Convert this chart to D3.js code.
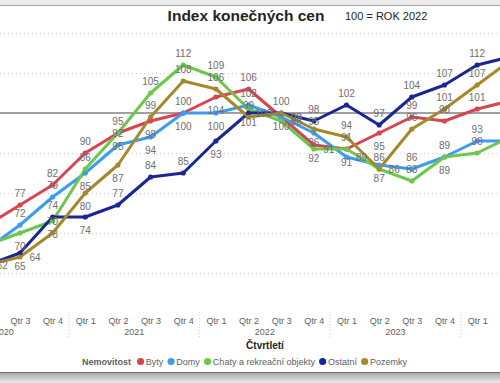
<!DOCTYPE html>
<html><head><meta charset="utf-8">
<script src="https://cdn.jsdelivr.net/npm/d3@7"></script>
<style>
html,body{margin:0;padding:0;background:#fff;}
svg{display:block;font-family:"Liberation Sans",Arial,sans-serif;}
</style></head><body>
<svg id="c" width="500" height="383"></svg>
<script>
// ---- data ----
const quarters = ["Qtr 2","Qtr 3","Qtr 4","Qtr 1","Qtr 2","Qtr 3","Qtr 4","Qtr 1","Qtr 2","Qtr 3","Qtr 4","Qtr 1","Qtr 2","Qtr 3","Qtr 4","Qtr 1","Qtr 2"];
const years    = [2020,2020,2020,2021,2021,2021,2021,2022,2022,2022,2022,2023,2023,2023,2023,2024,2024];
const seriesNames = ["Byty","Domy","Chaty a rekreační objekty","Ostatní","Pozemky"];
const byty    = [72, 77, 82, 90, 95, 98, 100, 104, 106, 99, 92, 91, 95, 99, 98, 101, 103];
const domy    = [66, 72, 79, 85, 92, 94, 100, 100, 102, 99, 95, 89, 87, 86, 89, 93, 93];
const chaty   = [67, 70, 73, 86, 95, 105, 112, 109, 101, 98, 91, 91, 86, 83, 89, 90, 94];
const ostatni = [62, 65, 74, 74, 77, 84, 85, 93, 100, 100, 98, 102, 97, 104, 107, 112, 114];
const pozemky = [62, 64, 70, 80, 87, 99, 108, 106, 99, 100, 96, 94, 86, 96, 101, 107, 113];
const gridValues = [60, 70, 80, 90, 110, 120];
const referenceValue = 100;
const titleText = "Index konečných cen";
const subtitleText = "100 = ROK 2022";
const axisTitle = "Čtvrtletí";
const legendTitle = "Nemovitost";

// ---- styles ----
const colors = ["#D64550", "#3D9BF0", "#6CC84A", "#1A2696", "#A3892A"];
const series = [byty, domy, chaty, ostatni, pozemky].map((v, k) => ({name: seriesNames[k], values: v, color: colors[k]}));

const W = 500, H = 383;
const svg = d3.select("#c");

// frame (screenshot card)
svg.append("rect").attr("x",0).attr("y",0).attr("width",W).attr("height",5.5).attr("fill","#ececec");
svg.append("line").attr("x1",0).attr("x2",W).attr("y1",5.5).attr("y2",5.5).attr("stroke","#a4a4a4").attr("stroke-width",1);
const grad = svg.append("defs").append("linearGradient").attr("id","sh").attr("x1",0).attr("x2",0).attr("y1",0).attr("y2",1);
grad.append("stop").attr("offset","0%").attr("stop-color","#a9a9a9");
grad.append("stop").attr("offset","100%").attr("stop-color","#ececec");
svg.append("rect").attr("x",0).attr("y",373).attr("width",W).attr("height",10).attr("fill","url(#sh)");
svg.append("line").attr("x1",0).attr("x2",W).attr("y1",372.5).attr("y2",372.5).attr("stroke","#707070").attr("stroke-width",1);

// scales
const n = quarters.length;
const x = d3.scaleLinear().domain([0, n - 1]).range([-12.7, 509.8]);
const y = d3.scaleLinear().domain([60, 120]).range([273, 33]);

// gridlines
const grid = svg.append("g").call(d3.axisLeft(y).tickValues(gridValues).tickSize(-W).tickFormat(""));
grid.select(".domain").remove();
grid.selectAll(".tick line").attr("stroke","#cfcfcf").attr("stroke-dasharray","1,3");

// reference line
svg.append("line").attr("x1",0).attr("x2",W).attr("y1",y(referenceValue)).attr("y2",y(referenceValue))
  .attr("stroke","#a0a0a0").attr("stroke-width",2);

// x axis quarters (only ticks that fall inside the visible frame)
const visibleTicks = d3.range(n).filter(i => x(i) > 5 && x(i) < W - 5);
const xa = svg.append("g").attr("transform","translate(0,317.5)")
  .call(d3.axisBottom(x).tickValues(visibleTicks).tickFormat(i => quarters[i]).tickSize(0).tickPadding(0));
xa.select(".domain").remove();
xa.selectAll("text").attr("fill","#605E5C").attr("font-size","9px").attr("font-family","Liberation Sans, Arial, sans-serif");

// year groups
const qStart = +quarters[0].slice(-1);
const y0 = years[0];
const pos = (yr, q) => (yr - y0) * 4 + (q - qStart);
const uniqYears = Array.from(new Set(years)).filter(d => x(pos(d, 2.5)) < W);
svg.append("g").selectAll("text").data(uniqYears).join("text")
  .attr("x", d => x(pos(d, 2.5))).attr("y", 335).attr("text-anchor","middle")
  .attr("font-size","9px").attr("fill","#605E5C").text(d => d);
svg.append("g").selectAll("line").data(Array.from(new Set(years)).slice(1)).join("line")
  .attr("x1", d => x(pos(d, 0.5))).attr("x2", d => x(pos(d, 0.5)))
  .attr("y1", 312).attr("y2", 339).attr("stroke","#cfcfcf").attr("stroke-dasharray","1,2");

// axis title
svg.append("text").attr("x",265).attr("y",349).attr("text-anchor","middle")
  .attr("font-size","10px").attr("font-weight","bold").attr("fill","#252423").text(axisTitle);

// lines
const line = d3.line().x((d, i) => x(i)).y(d => y(d));
const lg = svg.append("g");
series.forEach(s => {
  lg.append("path").attr("d", line(s.values)).attr("fill","none").attr("stroke", s.color)
    .attr("stroke-width", 3).attr("stroke-linejoin","round").attr("stroke-linecap","round");
});
series.forEach(s => {
  lg.append("g").selectAll("circle").data(s.values).join("circle")
    .attr("cx", (d, i) => x(i)).attr("cy", d => y(d)).attr("r", 2.6).attr("fill", s.color);
});

// data labels with simple collision avoidance
const labels = [];
for (let i = 0; i < n; i++) {
  const pts = series.map((s, k) => ({k, v: s.values[i], px: x(i), py: y(s.values[i])}))
    .sort((a, b) => a.py - b.py);
  const placed = [];
  const overlaps = (t, b) => placed.some(p => !(b + 1 < p.t || t - 1 > p.b));
  pts.forEach(p => {
    const aT = p.py - 16, aB = p.py - 8;
    const bT = p.py + 9, bB = p.py + 17;
    if (!overlaps(aT, aB)) { placed.push({t:aT, b:aB}); labels.push({x:p.px, y:aB, v:p.v}); }
    else if (!overlaps(bT, bB)) { placed.push({t:bT, b:bB}); labels.push({x:p.px, y:bB, v:p.v}); }
    else { labels.push({x:p.px + 15, y:p.py + 4, v:p.v}); }
  });
}
svg.append("g").selectAll("text").data(labels).join("text")
  .attr("x", d => d.x).attr("y", d => d.y).attr("text-anchor", "middle")
  .attr("font-size","10px").attr("fill","#6e6e6e").text(d => Math.round(d.v));

// title
svg.append("text").attr("x",246).attr("y",20.5).attr("text-anchor","middle")
  .attr("font-size","15.5px").attr("font-weight","bold").attr("fill","#252423").text(titleText);
svg.append("text").attr("x",345).attr("y",19.5)
  .attr("font-size","11px").attr("fill","#252423").text(subtitleText);

// legend
const leg = svg.append("g");
const lt = leg.append("text").attr("x",0).attr("y",365).attr("font-size","9px").attr("font-weight","bold")
  .attr("fill","#605E5C").text(legendTitle);
let cx = lt.node().getComputedTextLength() + 9.5;
series.forEach(s => {
  leg.append("circle").attr("cx", cx).attr("cy", 361.5).attr("r", 3.6).attr("fill", s.color);
  const t = leg.append("text").attr("x", cx + 5.3).attr("y", 365).attr("font-size","9px")
    .attr("fill","#605E5C").text(s.name);
  cx = cx + 5.3 + t.node().getComputedTextLength() + 7.7;
});
const legW = cx - 7.7;
leg.attr("transform", `translate(${244.5 - legW / 2},0)`);
</script>
</body></html>
